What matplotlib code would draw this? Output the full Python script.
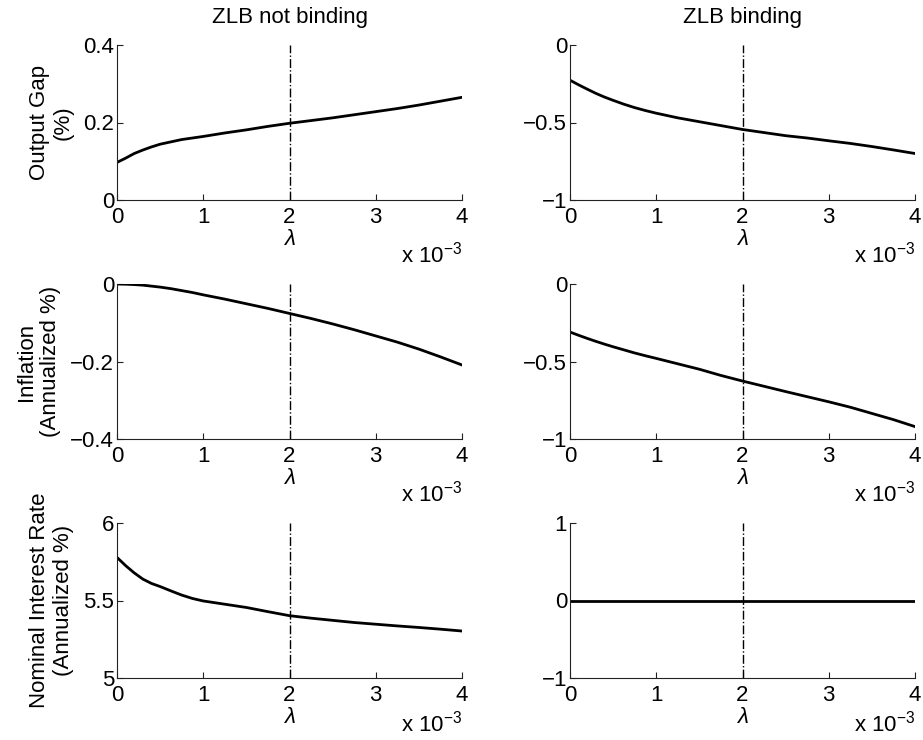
import numpy as np
import matplotlib
matplotlib.use('Agg')
import matplotlib.pyplot as plt
from matplotlib.ticker import FuncFormatter, FixedLocator

plt.rcParams['font.family'] = ['Liberation Sans', 'DejaVu Sans']
plt.rcParams['mathtext.fontset'] = 'custom'
plt.rcParams['mathtext.it'] = 'Liberation Sans:italic'
plt.rcParams['mathtext.rm'] = 'Liberation Sans'

FS = 16

# ── data ────────────────────────────────────────────────
lam = np.array([0, 0.1, 0.2, 0.3, 0.4, 0.5, 0.625, 0.75, 0.875, 1,
                1.25, 1.5, 1.75, 2, 2.25, 2.5, 2.75, 3, 3.25, 3.5, 3.75, 4]) * 1e-3
lam_star = 2e-3

gap_nb = [0.097, 0.108, 0.120, 0.129, 0.137, 0.144, 0.150, 0.156, 0.160, 0.164,
          0.173, 0.181, 0.190, 0.198, 0.205, 0.212, 0.220, 0.228, 0.236, 0.245, 0.255, 0.265]
gap_b = [-0.227, -0.257, -0.285, -0.312, -0.336, -0.357, -0.382, -0.404, -0.423, -0.440,
         -0.470, -0.495, -0.520, -0.545, -0.565, -0.585, -0.600, -0.618, -0.635, -0.655, -0.677, -0.700]
inf_nb = [0.0, -0.0005, -0.0015, -0.003, -0.0055, -0.008, -0.012, -0.017, -0.022, -0.028,
          -0.039, -0.051, -0.063, -0.076, -0.089, -0.103, -0.118, -0.134, -0.150, -0.168, -0.188, -0.209]
inf_b = [-0.310, -0.331, -0.351, -0.370, -0.388, -0.405, -0.425, -0.445, -0.463, -0.480,
         -0.515, -0.550, -0.590, -0.626, -0.660, -0.694, -0.727, -0.760, -0.795, -0.835, -0.875, -0.920]
rate_nb = [5.778, 5.725, 5.678, 5.638, 5.610, 5.590, 5.562, 5.535, 5.513, 5.497,
           5.476, 5.455, 5.428, 5.402, 5.386, 5.372, 5.358, 5.347, 5.336, 5.326, 5.315, 5.303]
rate_b = [0.0] * len(lam)

panels = [
    (gap_nb,  (0, 0.4),   [0, 0.2, 0.4],     'Output Gap\n(%)'),
    (gap_b,   (-1, 0),    [-1, -0.5, 0],     None),
    (inf_nb,  (-0.4, 0),  [-0.4, -0.2, 0],   'Inflation\n(Annualized %)'),
    (inf_b,   (-1, 0),    [-1, -0.5, 0],     None),
    (rate_nb, (5, 6),     [5, 5.5, 6],       'Nominal Interest Rate\n(Annualized %)'),
    (rate_b,  (-1, 1),    [-1, 0, 1],        None),
]
col_titles = ['ZLB not binding', 'ZLB binding']

W, H = 923, 740
fig = plt.figure(figsize=(W / 100, H / 100), dpi=100)

col_x = [117, 570]
col_w = 345
row_top = [45, 284, 523]
row_h = 155
exp_y = [-0.35, -0.35, -0.295]   # "x 10^-3" position per row


def yfmt(v, pos):
    return ('%g' % v).replace('-', '\u2212')


for i, (ys, ylim, yticks, ylabel) in enumerate(panels):
    r, c = divmod(i, 2)
    ax = fig.add_axes([col_x[c] / W, 1 - (row_top[r] + row_h) / H, col_w / W, row_h / H])
    ax.plot(lam, ys, color='black', lw=2.0)
    ax.axvline(lam_star, color='black', lw=1.0, ls='-.')
    ax.set_xlim(0, 4e-3)
    ax.set_ylim(*ylim)
    ax.xaxis.set_major_locator(FixedLocator([0, 1e-3, 2e-3, 3e-3, 4e-3]))
    ax.xaxis.set_major_formatter(FuncFormatter(lambda v, p: '%g' % round(v * 1e3, 6)))
    ax.yaxis.set_major_locator(FixedLocator(yticks))
    ax.yaxis.set_major_formatter(FuncFormatter(yfmt))
    for s in ['top', 'right']:
        ax.spines[s].set_visible(False)
    for s in ['left', 'bottom']:
        ax.spines[s].set_color('#222222')
        ax.spines[s].set_linewidth(0.8)
    ax.tick_params(direction='in', length=4, width=0.8, color='#222222',
                   labelsize=FS, pad=2)
    ax.tick_params(axis='x', pad=5)
    ax.set_xlabel(r'$\lambda$', fontsize=FS, labelpad=1)
    ax.text(1.0, exp_y[r], r'x 10$^{\mathregular{-3}}$', transform=ax.transAxes,
            ha='right', va='center', fontsize=FS)
    if ylabel:
        ax.set_ylabel(ylabel, fontsize=FS, labelpad=7, linespacing=1.15)
    if r == 0:
        ax.set_title(col_titles[c], fontsize=FS, pad=16)

fig.savefig('out.png', dpi=100, facecolor='white')
